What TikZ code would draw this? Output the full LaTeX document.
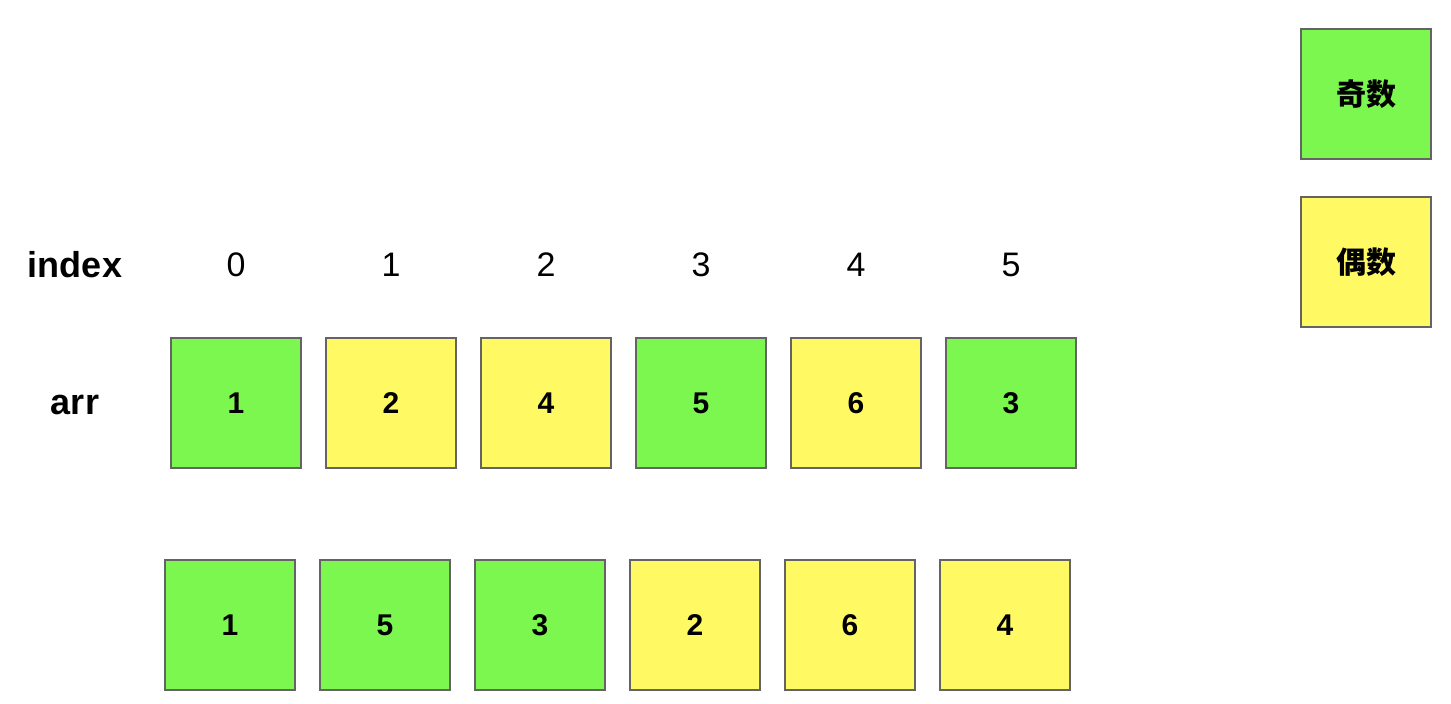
\documentclass[tikz,border=0pt]{standalone}
\usepackage{fontspec}
\setmainfont{Liberation Sans}
\newfontfamily\cjk{Noto Sans CJK SC}
\definecolor{oddc}{RGB}{124,247,80}
\definecolor{evenc}{RGB}{255,250,100}
\definecolor{edgec}{RGB}{100,100,100}
\begin{document}
\begin{tikzpicture}[x=1pt,y=-1pt,
  cell/.style={draw=edgec,line width=1.2pt,minimum width=130pt,minimum height=130pt,inner sep=0pt,font=\fontsize{30}{30}\selectfont\bfseries},
  odd/.style={cell,fill=oddc},
  even/.style={cell,fill=evenc},
  idx/.style={font=\fontsize{34}{34}\selectfont},
  lab/.style={font=\fontsize{36}{36}\selectfont\bfseries},
  leg/.style={cell,font=\fontsize{30}{30}\selectfont\cjk\bfseries}]
\useasboundingbox (0,0) rectangle (1451,704);
\node[lab] (lidx) at (75,265) {index};
\node[lab] (larr) at (75,405) {arr};
\foreach \i/\x in {0/236,1/391,2/546,3/701,4/856,5/1011}
  \node[idx] (i\i) at (\x,265) {\i};
\node[odd]  (a0) at (236,403) {1};
\node[even] (a1) at (391,403) {2};
\node[even] (a2) at (546,403) {4};
\node[odd]  (a3) at (701,403) {5};
\node[even] (a4) at (856,403) {6};
\node[odd]  (a5) at (1011,403) {3};
\node[odd]  (b0) at (230,625) {1};
\node[odd]  (b1) at (385,625) {5};
\node[odd]  (b2) at (540,625) {3};
\node[even] (b3) at (695,625) {2};
\node[even] (b4) at (850,625) {6};
\node[even] (b5) at (1005,625) {4};
\node[leg,fill=oddc]  (lodd)  at (1366,94) {奇数};
\node[leg,fill=evenc] (leven) at (1366,262) {偶数};
\end{tikzpicture}
\end{document}
